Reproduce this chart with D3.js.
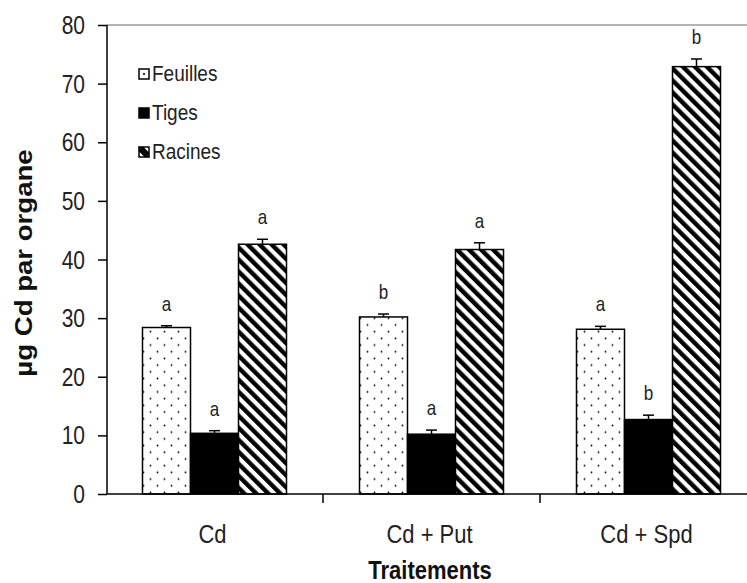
<!DOCTYPE html>
<html>
<head>
<meta charset="utf-8">
<script src="https://cdn.jsdelivr.net/npm/d3@7"></script>
<style>
  html, body { margin: 0; padding: 0; background: #fff; }
  svg { display: block; font-family: "Liberation Sans", Arial, sans-serif; }
</style>
</head>
<body>
<svg id="chart" width="747" height="583"></svg>
<script>
// Treatments on the x axis
const categories = ["Cd", "Cd + Put", "Cd + Spd"];
// Organs (one bar each per treatment)
const series = ["Feuilles", "Tiges", "Racines"];
// Mean Cd content (µg per organ), one array per organ, ordered like categories
const feuilles = [28.4, 30.2, 28.1];
const tiges = [10.35, 10.2, 12.7];
const racines = [42.6, 41.7, 72.9];
// Standard errors
const feuillesErr = [0.3, 0.5, 0.5];
const tigesErr = [0.45, 0.7, 0.75];
const racinesErr = [0.85, 1.15, 1.3];
// Significance letters
const feuillesLetters = ["a", "b", "a"];
const tigesLetters = ["a", "a", "b"];
const racinesLetters = ["a", "a", "b"];
// Y axis ticks
const yTicks = [0, 10, 20, 30, 40, 50, 60, 70, 80];

const values = { Feuilles: feuilles, Tiges: tiges, Racines: racines };
const errors = { Feuilles: feuillesErr, Tiges: tigesErr, Racines: racinesErr };
const letters = { Feuilles: feuillesLetters, Tiges: tigesLetters, Racines: racinesLetters };

const rows = [];
categories.forEach((c, i) => series.forEach(s => rows.push({
  cat: c, org: s, v: values[s][i], e: errors[s][i], l: letters[s][i]
})));

const svg = d3.select("#chart");
const axisX = 107, axisY0 = 494, axisTop = 25;
const TALL = 1.2; // glyphs are drawn slightly taller than wide

const y = d3.scaleLinear().domain([0, 80]).range([axisY0, axisTop]);
const x = d3.scaleBand().domain(categories).range([106, 757])
  .paddingInner(0.3364).paddingOuter(0.1682);
const xs = d3.scaleBand().domain(series).range([0, x.bandwidth()]).padding(0);

// Fill patterns
const defs = svg.append("defs");
const dots = defs.append("pattern").attr("id", "dots")
  .attr("patternUnits", "userSpaceOnUse").attr("width", 14).attr("height", 13.4);
dots.append("rect").attr("width", 14).attr("height", 13.4).attr("fill", "#fff");
dots.append("circle").attr("cx", 3.5).attr("cy", 3.4).attr("r", 0.9).attr("fill", "#000");
dots.append("circle").attr("cx", 10.5).attr("cy", 10.1).attr("r", 0.9).attr("fill", "#000");

const stripes = defs.append("pattern").attr("id", "stripes")
  .attr("patternUnits", "userSpaceOnUse").attr("width", 8.5).attr("height", 8.5)
  .attr("patternTransform", "rotate(-45)");
stripes.append("rect").attr("width", 8.5).attr("height", 8.5).attr("fill", "#fff");
stripes.append("rect").attr("width", 4.4).attr("height", 8.5).attr("fill", "#000");

const fills = { Feuilles: "url(#dots)", Tiges: "#000", Racines: "url(#stripes)" };

// Plot area top border
svg.append("line").attr("x1", axisX).attr("x2", 747).attr("y1", axisTop).attr("y2", axisTop)
  .attr("stroke", "#9a9a9a").attr("stroke-width", 1.5);

// Bars
const g = svg.append("g");
g.selectAll("rect.bar").data(rows).join("rect").attr("class", "bar")
  .attr("x", d => x(d.cat) + xs(d.org))
  .attr("y", d => y(d.v))
  .attr("width", xs.bandwidth())
  .attr("height", d => y(0) - y(d.v))
  .attr("fill", d => fills[d.org])
  .attr("stroke", "#000").attr("stroke-width", 1.5);

// Error bars (upper half only) and significance letters
const eb = g.selectAll("g.err").data(rows).join("g").attr("class", "err")
  .attr("transform", d => `translate(${x(d.cat) + xs(d.org) + xs.bandwidth() / 2},0)`);
eb.append("line").attr("x1", 0).attr("x2", 0)
  .attr("y1", d => y(d.v)).attr("y2", d => y(d.v + d.e))
  .attr("stroke", "#000").attr("stroke-width", 1.5);
eb.append("line").attr("x1", -5.5).attr("x2", 5.5)
  .attr("y1", d => y(d.v + d.e)).attr("y2", d => y(d.v + d.e))
  .attr("stroke", "#000").attr("stroke-width", 1.5);
eb.append("text").attr("text-anchor", "middle")
  .attr("transform", d => `translate(0,${y(d.v + d.e) - 15}) scale(1,${TALL})`)
  .attr("font-size", 17).attr("fill", "#222")
  .text(d => d.l);

// Y axis
const yAxis = svg.append("g").attr("transform", `translate(${axisX},0)`)
  .call(d3.axisLeft(y).tickValues(yTicks).tickSize(9).tickFormat(""));
yAxis.select(".domain").attr("d", `M0,${axisTop}V${axisY0}`);
yAxis.selectAll("line, path").attr("stroke", "#000").attr("stroke-width", 1.5);
svg.append("g").selectAll("text").data(yTicks).join("text")
  .attr("transform", d => `translate(85,${y(d)}) scale(1,${TALL})`)
  .attr("dy", "0.36em").attr("text-anchor", "end")
  .attr("font-size", 21).attr("fill", "#222")
  .text(d3.format("d"));

// X axis: line with ticks at category boundaries
const xAxis = svg.append("g");
xAxis.append("line").attr("x1", axisX).attr("x2", 747).attr("y1", axisY0).attr("y2", axisY0)
  .attr("stroke", "#000").attr("stroke-width", 1.5);
const bounds = categories.slice(1).map(c => x(c) - x.step() * x.paddingInner() / 2);
xAxis.selectAll("line.tick").data(bounds).join("line").attr("class", "tick")
  .attr("x1", d => d).attr("x2", d => d).attr("y1", axisY0).attr("y2", axisY0 + 9)
  .attr("stroke", "#000").attr("stroke-width", 1.5);
xAxis.selectAll("text").data(categories).join("text")
  .attr("transform", d => `translate(${x(d) + x.bandwidth() / 2 - 2},543) scale(1,${TALL})`)
  .attr("text-anchor", "middle").attr("font-size", 22).attr("fill", "#222")
  .text(d => d);

// Axis titles
svg.append("text").attr("transform", `translate(430,579) scale(1,${TALL})`).attr("text-anchor", "middle")
  .attr("font-size", 22).attr("font-weight", "bold").attr("fill", "#111")
  .text("Traitements");
svg.append("text").attr("transform", `translate(32,263) rotate(-90) scale(${TALL},1)`)
  .attr("text-anchor", "middle").attr("font-size", 23).attr("font-weight", "bold").attr("fill", "#111")
  .text("µg Cd par organe");

// Legend
const legend = svg.append("g").attr("transform", "translate(139,69)");
const li = legend.selectAll("g").data(series).join("g")
  .attr("transform", (d, i) => `translate(0,${i * 39})`);
li.append("rect").attr("width", 10).attr("height", 10)
  .attr("fill", d => d === "Tiges" ? "#000" : "#fff")
  .attr("stroke", "#000").attr("stroke-width", 1.5);
li.filter(d => d === "Feuilles").append("circle")
  .attr("cx", 5).attr("cy", 5).attr("r", 1.1).attr("fill", "#000");
li.filter(d => d === "Racines").append("path")
  .attr("d", "M0,0 L10,10 M0,3 L7,10 M3,0 L10,7").attr("stroke", "#000").attr("stroke-width", 2);
li.append("text").attr("transform", `translate(13,11.5) scale(1,${TALL})`)
  .attr("font-size", 19).attr("fill", "#222")
  .text(d => d);
</script>
</body>
</html>
